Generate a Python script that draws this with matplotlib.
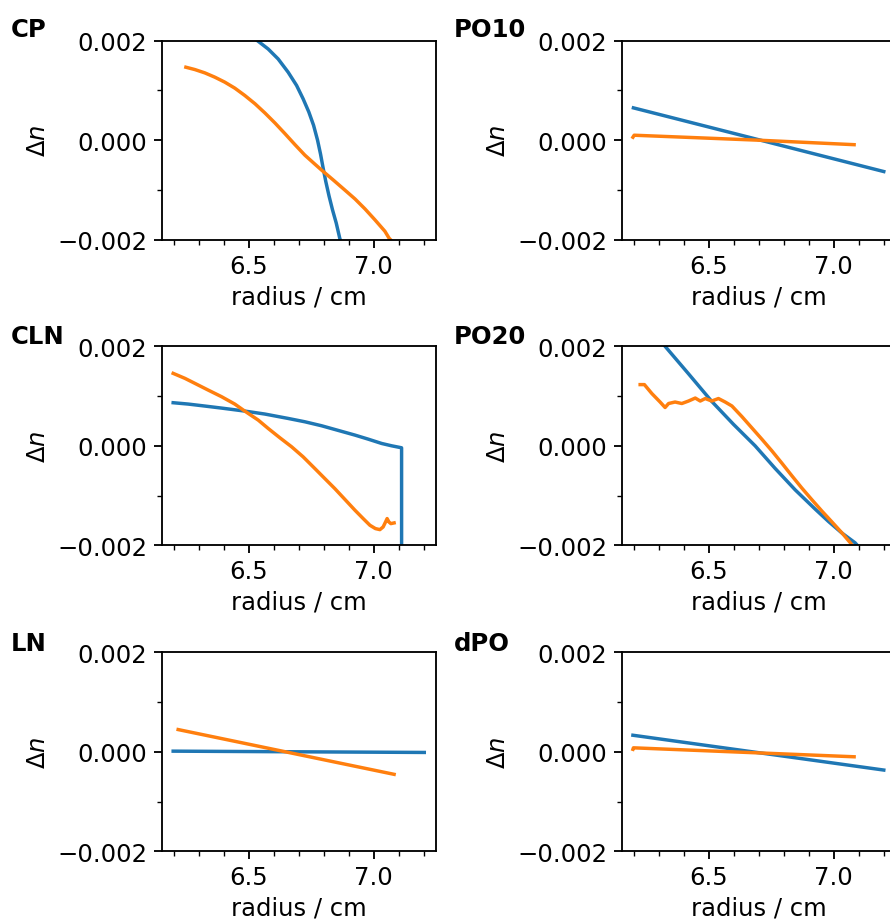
import matplotlib
matplotlib.use("Agg")
import matplotlib.pyplot as plt
from matplotlib.ticker import MultipleLocator

# Scale factor so the 100-dpi canvas carries the proportions of a denser print
S = 1.656
plt.rcParams.update({
    "font.size": 17.5,
    "lines.linewidth": 1.5 * S,
    "axes.linewidth": 0.8 * S,
    "xtick.major.size": 3.5 * S,
    "ytick.major.size": 3.5 * S,
    "xtick.minor.size": 2.0 * S,
    "ytick.minor.size": 2.0 * S,
    "xtick.major.width": 0.8 * S,
    "ytick.major.width": 0.8 * S,
    "xtick.minor.width": 0.6 * S,
    "ytick.minor.width": 0.6 * S,
    "xtick.major.pad": 4.3,
    "ytick.major.pad": 4.8,
    "axes.labelpad": 4.8,
})

panel_names = ["CP", "PO10", "CLN", "PO20", "LN", "dPO"]

# ---- CP ----
cp_r1 = [6.20, 6.35, 6.45, 6.534, 6.577, 6.617, 6.657, 6.691, 6.717, 6.740, 6.759, 6.775,
         6.787, 6.797, 6.808, 6.821, 6.835, 6.850, 6.864, 6.90, 7.00, 7.20]
cp_dn1 = [0.0029, 0.0026, 0.0023, 0.0020, 0.001833, 0.001633, 0.001367, 0.0011, 0.000833,
          0.000567, 0.0003, 0.0, -0.00028, -0.00055, -0.00083, -0.00112, -0.0014, -0.001667,
          -0.00197, -0.0025, -0.0037, -0.0060]
cp_r2 = [6.247, 6.283, 6.323, 6.363, 6.403, 6.443, 6.483, 6.524, 6.564, 6.604, 6.644, 6.684,
         6.724, 6.764, 6.791, 6.838, 6.884, 6.925, 6.965, 7.005, 7.045, 7.062, 7.092]
cp_dn2 = [0.001467, 0.00142, 0.001353, 0.001267, 0.001167, 0.001047, 0.0009, 0.000733,
          0.000547, 0.000347, 0.000133, -0.000087, -0.0003, -0.00048, -0.0006, -0.0008, -0.001,
          -0.00118, -0.00138, -0.0016, -0.00183, -0.00197, -0.00213]

# ---- PO10 ----
po10_r1 = [6.197, 6.707, 7.201]
po10_dn1 = [0.00065, 0.0, -0.00063]
po10_r2 = [6.195, 6.200, 6.400, 6.700, 7.082]
po10_dn2 = [0.00006, 0.00010, 0.00006, 0.0, -0.00009]

# ---- CLN ----
cln_r1 = [6.196, 6.256, 6.323, 6.390, 6.483, 6.564, 6.657, 6.724, 6.791, 6.858, 6.925, 6.978,
          7.032, 7.072, 7.112, 7.1125]
cln_dn1 = [0.000866, 0.000839, 0.000799, 0.000758, 0.000698, 0.000638, 0.00055, 0.000483,
           0.000403, 0.000309, 0.000215, 0.000134, 0.000047, 0.0, -0.00004, -0.02]
cln_r2 = [6.196, 6.243, 6.283, 6.336, 6.390, 6.443, 6.483, 6.537, 6.577, 6.624, 6.671, 6.717,
          6.764, 6.804, 6.844, 6.884, 6.925, 6.958, 6.985, 7.007, 7.025, 7.038, 7.049, 7.054,
          7.061, 7.069, 7.082]
cln_dn2 = [0.001456, 0.001356, 0.001255, 0.001121, 0.000987, 0.000839, 0.000698, 0.000517,
           0.000349, 0.000161, -0.00002, -0.000221, -0.000456, -0.000658, -0.000859, -0.001074,
           -0.001295, -0.001463, -0.001597, -0.001664, -0.001685, -0.001631, -0.001517,
           -0.001463, -0.00153, -0.001564, -0.00155]

# ---- PO20 ----
po20_r1 = [6.20, 6.324, 6.418, 6.511, 6.598, 6.685, 6.765, 6.846, 6.926, 6.979, 7.033, 7.086, 7.20]
po20_dn1 = [0.0028, 0.0020, 0.001447, 0.000893, 0.000433, 0.0, -0.000453, -0.000887, -0.001273,
            -0.00152, -0.001753, -0.00195, -0.0026]
po20_r2 = [6.224, 6.241, 6.271, 6.304, 6.324, 6.338, 6.364, 6.391, 6.418, 6.445, 6.465, 6.485,
           6.511, 6.538, 6.565, 6.592, 6.632, 6.672, 6.712, 6.752, 6.792, 6.832, 6.872, 6.912,
           6.953, 6.993, 7.033, 7.067, 7.09]
po20_dn2 = [0.00123, 0.00123, 0.00105, 0.00088, 0.00077, 0.00085, 0.00088, 0.00085, 0.00090,
            0.00096, 0.00090, 0.00095, 0.00090, 0.00095, 0.00088, 0.00080, 0.000587, 0.00036,
            0.000133, -0.0001, -0.000347, -0.0006, -0.000847, -0.00108, -0.001313, -0.00153,
            -0.00175, -0.00195, -0.00212]

# ---- LN ----
ln_r1 = [6.196, 7.203]
ln_dn1 = [0.000013, -0.000013]
ln_r2 = [6.216, 7.082]
ln_dn2 = [0.000447, -0.000453]

# ---- dPO ----
dpo_r1 = [6.195, 7.201]
dpo_dn1 = [0.000333, -0.000367]
dpo_r2 = [6.195, 6.197, 7.082]
dpo_dn2 = [0.00005, 0.00008, -0.00010]

series = [
    (cp_r1, cp_dn1, cp_r2, cp_dn2),
    (po10_r1, po10_dn1, po10_r2, po10_dn2),
    (cln_r1, cln_dn1, cln_r2, cln_dn2),
    (po20_r1, po20_dn1, po20_r2, po20_dn2),
    (ln_r1, ln_dn1, ln_r2, ln_dn2),
    (dpo_r1, dpo_dn1, dpo_r2, dpo_dn2),
]

y_ticks = [-0.002, 0.0, 0.002]
x_ticks = [6.5, 7.0]

W, H = 890, 920
fig = plt.figure(figsize=(W / 100, H / 100), dpi=100)

col_left = [161.7, 621.7]
ax_w = 274.3
row_top = [41.7, 347.3, 653.3]
ax_h = 199.0
label_x = [11.0, 454.0]
label_base = [37.0, 344.0, 651.0]

for i, (name, (r1, d1, r2, d2)) in enumerate(zip(panel_names, series)):
    row, col = divmod(i, 2)
    left = col_left[col] / W
    bottom = (H - row_top[row] - ax_h) / H
    ax = fig.add_axes([left, bottom, ax_w / W, ax_h / H])
    ax.plot(r1, d1, color="#1f77b4")
    ax.plot(r2, d2, color="#ff7f0e")
    ax.set_xlim(6.15, 7.25)
    ax.set_ylim(-0.002, 0.002)
    ax.set_yticks(y_ticks)
    ax.set_xticks(x_ticks)
    ax.xaxis.set_minor_locator(MultipleLocator(0.1))
    ax.yaxis.set_minor_locator(MultipleLocator(0.001))
    ax.set_xlabel("radius / cm")
    ax.set_ylabel(r"$\Delta n$")
    fig.text(label_x[col] / W, (H - label_base[row]) / H, name,
             fontsize=17.5, fontweight="bold", ha="left", va="baseline")

fig.savefig("out.png", dpi=100)
